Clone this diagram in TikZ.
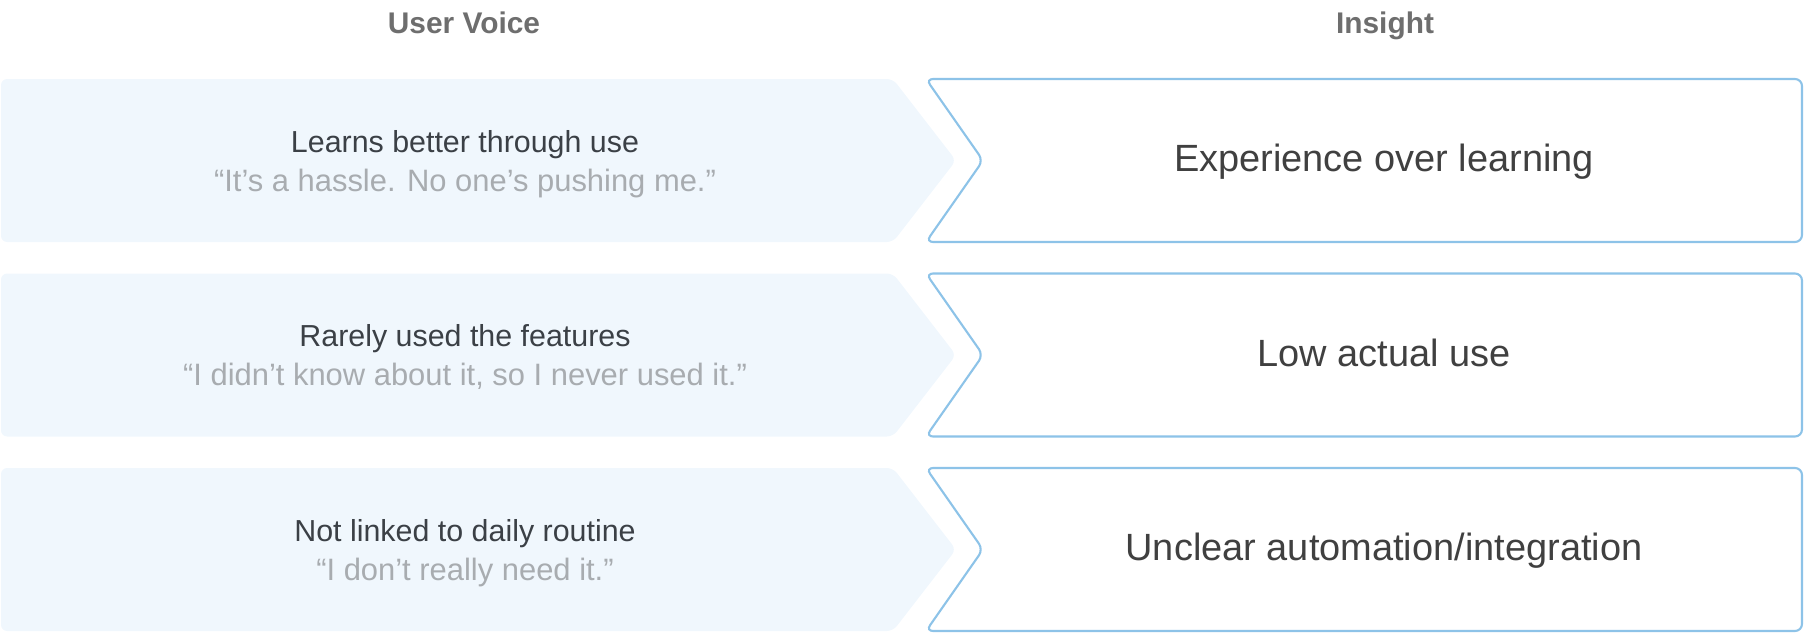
\documentclass[tikz,border=0pt]{standalone}
\usepackage{fontspec}
\setmainfont{Liberation Sans}

\definecolor{headgray}{HTML}{6E6E6E}
\definecolor{voicetext}{HTML}{3B4046}
\definecolor{quotegray}{HTML}{A8ACB0}
\definecolor{insighttext}{HTML}{404040}
\definecolor{voicefill}{HTML}{F0F7FD}
\definecolor{insightline}{HTML}{8DC3E8}

\begin{document}
\begin{tikzpicture}[x=0.02cm,y=-0.02cm,
    header/.style={font=\fontsize{17}{20}\selectfont\bfseries, text=headgray, anchor=base},
    voice/.style={font=\fontsize{17.3}{20}\selectfont, text=voicetext, anchor=base},
    quote/.style={font=\fontsize{17.6}{20}\selectfont, text=quotegray, anchor=base},
    insight/.style={font=\fontsize{21.6}{26}\selectfont, text=insighttext, anchor=base},
    voicebox/.style={fill=voicefill, rounded corners=3.5pt},
    insightbox/.style={draw=insightline, line width=1.2pt, fill=white, rounded corners=4pt}]

    \useasboundingbox (0,0) rectangle (1804,632);

    % Column headers
    \node[header] (hvoice) at (464,33) {User Voice};
    \node[header] (hinsight) at (1385,33) {Insight};

    % Rows: voice chevron, then insight box
    \foreach \i/\said/\quoted/\found in {
        0/Learns better through use/{“It’s a hassle. No one’s pushing me.”}/Experience over learning,
        1/Rarely used the features/{“I didn’t know about it, so I never used it.”}/Low actual use,
        2/Not linked to daily routine/{“I don’t really need it.”}/{Unclear automation/integration}} {
      \pgfmathsetmacro{\rowtop}{79+194.5*\i}
      \pgfmathsetmacro{\rowmid}{\rowtop+81.5}
      \pgfmathsetmacro{\rowbot}{\rowtop+163}
      \fill[voicebox] (1,\rowtop) -- (893,\rowtop) -- (956,\rowmid) -- (893,\rowbot) -- (1,\rowbot) -- cycle;
      \draw[insightbox] (926,\rowtop) -- (1802,\rowtop) -- (1802,\rowbot) -- (926,\rowbot) -- (983,\rowmid) -- cycle;
      \node[voice] (said\i) at (465,\rowmid-8.5) {\said};
      \node[quote] (quoted\i) at (465,\rowmid+30.5) {\quoted};
      \node[insight] (found\i) at (1384,\rowmid+11) {\found};
    }

\end{tikzpicture}
\end{document}
